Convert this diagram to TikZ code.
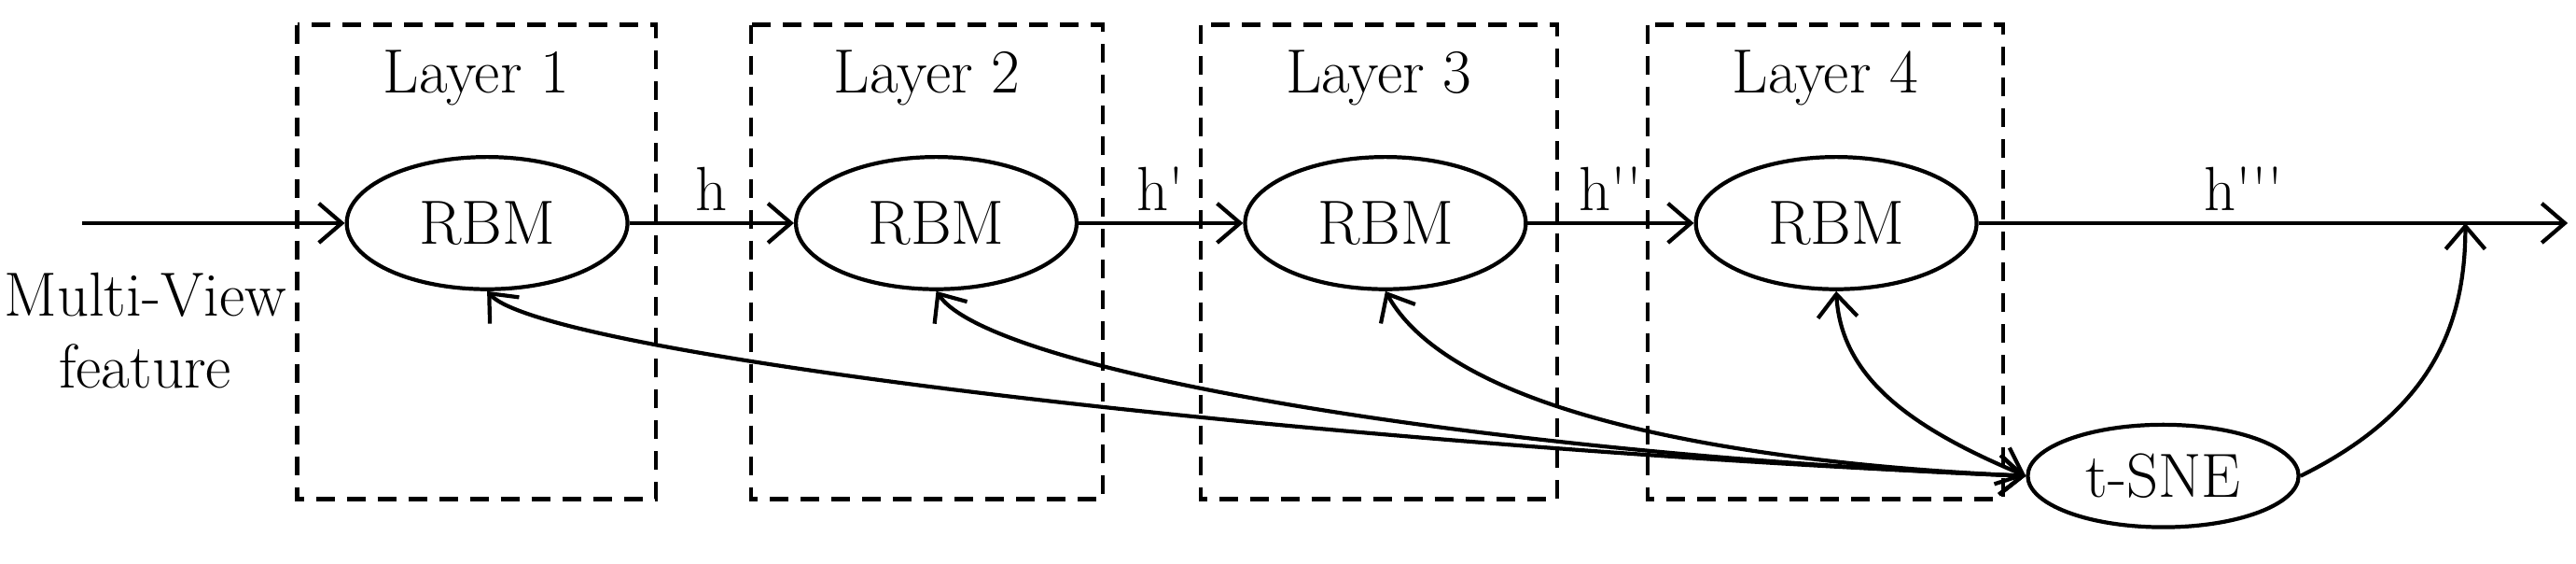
\documentclass[tikz,border=0pt]{standalone}
\usetikzlibrary{arrows.meta,shapes.geometric}
\begin{document}
\begin{tikzpicture}[x=0.0177cm,y=-0.0177cm,
  every node/.style={font=\fontsize{19}{22}\selectfont},
  ln/.style={line width=1.2pt},
  arr/.style={ln,-{Straight Barb[length=7pt,width=12pt]}},
  darr/.style={ln,{Straight Barb[length=7pt,width=12pt]}-{Straight Barb[length=7pt,width=12pt]}},
  box/.style={line width=1.2pt,dash pattern=on 0.2cm off 0.13cm},
  rbm/.style={draw,ln,ellipse,minimum width=170*0.0177cm,minimum height=80*0.0177cm,inner sep=0pt}]
\useasboundingbox (0,0) rectangle (1560,341);
\foreach \a/\b/\n in {180/397/1,455/668/2,727/943/3,998/1213/4}{
  \draw[box] (\a,15) rectangle (\b,302);
  \node (L\n) at ({(\a+\b)/2},47) {Layer \n};
}
\node[rbm] (r1) at (295,135) {RBM};
\node[rbm] (r2) at (567,135) {RBM};
\node[rbm] (r3) at (839,135) {RBM};
\node[rbm] (r4) at (1112,135) {RBM};
\node[rbm,minimum width=164*0.0177cm,minimum height=62*0.0177cm] (t) at (1310,288) {t-SNE};
\coordinate (in) at (50,135);
\coordinate (out) at (1555,135);
\coordinate (j) at (1493,135);
\node[align=center,inner sep=0pt] (mv) at (88,200) {Multi-View\\feature};
\draw[arr] (in) -- (r1);
\draw[arr] (r1) -- node[above] {h} (r2);
\draw[arr] (r2) -- node[above] {h\textquotesingle} (r3);
\draw[arr] (r3) -- node[above] {h\textquotesingle\textquotesingle} (r4);
\draw[arr] (r4) -- node[pos=0.45,above] {h\textquotesingle\textquotesingle\textquotesingle} (out);
\draw[arr] (t.east) .. controls (1470,250) and (1493,200) .. (j);
\draw[darr] (r1.south) .. controls (330,215) and (800,270) .. (t.west);
\draw[darr] (r2.south) .. controls (600,225) and (900,275) .. (t.west);
\draw[darr] (r3.south) .. controls (880,250) and (1050,280) .. (t.west);
\draw[darr] (r4.south) .. controls (1115,230) and (1160,260) .. (t.west);
\end{tikzpicture}
\end{document}
